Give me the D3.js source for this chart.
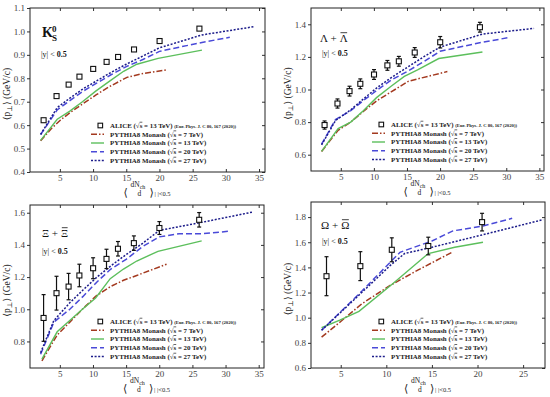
<!DOCTYPE html>
<html><head><meta charset="utf-8">
<script src="https://cdn.jsdelivr.net/npm/d3@7"></script>
<style>body{margin:0;background:#fff}svg{display:block}</style>
</head><body><div id="c"></div>
<script>
// ---------------- data ----------------
const xTicksA = [5,10,15,20,25,30,35];
const xTicksB = [5,10,15,20,25];
const yTicksK0S = [0.4,0.5,0.6,0.7,0.8,0.9,1.0,1.1];
const yTicksLam = [0.6,0.8,1.0,1.2,1.4];
const yTicksXi  = [0.8,1.0,1.2,1.4,1.6];
const yTicksOm  = [0.6,0.8,1.0,1.2,1.4,1.6,1.8];

const aliceX = [2.55,4.50,6.32,7.95,10.02,12.04,13.77,16.17,20.02,26.02];
const aliceK0S = [0.621,0.724,0.773,0.807,0.840,0.870,0.891,0.923,0.959,1.012];
const aliceK0SErr = [0.006,0.006,0.006,0.006,0.006,0.006,0.006,0.006,0.006,0.007];
const aliceLam = [0.782,0.914,0.99,1.035,1.092,1.148,1.173,1.227,1.29,1.382];
const aliceLamErr = [0.025,0.028,0.03,0.03,0.03,0.03,0.03,0.03,0.035,0.03];
const aliceXi = [0.946,1.10,1.141,1.21,1.255,1.313,1.376,1.411,1.505,1.556];
const aliceXiErr = [0.145,0.105,0.082,0.07,0.065,0.06,0.045,0.045,0.04,0.045];
const aliceXOm = [3.44,7.15,10.6,14.6,20.5];
const aliceOm = [1.33,1.41,1.54,1.57,1.76];
const aliceOmErr = [0.155,0.115,0.095,0.07,0.07];

// PYTHIA8 Monash curves
const k7x = [2.1,3.7,5.1,6.6,8.4,10.5,12.5,15.1,17.5,21.1];
const k7y = [0.533,0.585,0.622,0.655,0.69,0.73,0.765,0.804,0.82,0.836];
const k13x = [2.1,4.6,6.5,8.4,10.4,12.6,14.6,16.6,19.8,26.4];
const k13y = [0.535,0.625,0.66,0.70,0.745,0.79,0.83,0.86,0.885,0.92];
const k20x = [2.1,4.6,6.5,8.5,10.6,12.7,15,17.5,20,26.4,30.6];
const k20y = [0.56,0.665,0.705,0.745,0.78,0.815,0.85,0.88,0.915,0.953,0.975];
const k27x = [2.1,4.6,6.5,8.5,10.6,12.7,15,17.5,20,26.4,34.2];
const k27y = [0.56,0.675,0.715,0.755,0.79,0.825,0.86,0.895,0.93,0.985,1.02];

const l7x = [2.1,4.6,6.5,8.4,10.4,12.6,15.2,16.6,21.1];
const l7y = [0.62,0.75,0.80,0.865,0.93,0.985,1.05,1.065,1.11];
const l13x = [2.1,4.6,6.5,8.4,10.4,12.6,14.6,16.6,19.8,26.4];
const l13y = [0.62,0.76,0.80,0.87,0.95,1.02,1.08,1.12,1.19,1.23];
const l20x = [2.1,4.2,6.5,8.5,10.6,12.7,15,17.5,20,26.4,30.6];
const l20y = [0.665,0.815,0.87,0.935,1.0,1.06,1.11,1.17,1.235,1.29,1.32];
const l27x = [2.1,4.2,6.5,8.5,10.6,12.7,15,17.5,20,26.4,34.2];
const l27y = [0.66,0.81,0.875,0.945,1.015,1.075,1.135,1.2,1.26,1.34,1.375];

const x7x = [2.3,4.6,6.5,8.4,10.4,12.6,14.6,16.6,21.1];
const x7y = [0.68,0.84,0.92,1.0,1.08,1.14,1.18,1.21,1.28];
const x13x = [2.3,4.6,6.5,8.4,10.4,12.6,14.6,16.6,19.8,26.4];
const x13y = [0.69,0.86,0.93,1.0,1.07,1.19,1.25,1.30,1.36,1.425];
const x20x = [2.1,4.1,6.5,8.5,10.6,12.7,15,17.5,20,23,26.4,30.6];
const x20y = [0.72,0.92,1.0,1.08,1.17,1.25,1.31,1.39,1.45,1.47,1.47,1.485];
const x27x = [2.1,4.1,6.5,8.5,10.6,12.7,15,17.5,20,26.4,34.2];
const x27y = [0.73,0.93,1.04,1.12,1.2,1.27,1.34,1.41,1.49,1.54,1.605];

const o7x = [2.9,5,7.3,10.5,13.5,17.2];
const o7y = [0.845,0.97,1.11,1.26,1.38,1.52];
const o13x = [2.9,4.9,7,10.7,14.6,17.5,20.6];
const o13y = [0.92,0.98,1.05,1.27,1.51,1.56,1.60];
const o20x = [2.9,7.3,11.5,15,17.3,20.6,23.8];
const o20y = [0.90,1.21,1.52,1.61,1.69,1.73,1.79];
const o27x = [2.9,7.3,10.5,12,15,20.6,27.2];
const o27y = [0.90,1.20,1.42,1.51,1.56,1.66,1.78];

const legendTexts = ["PYTHIA8 Monash (√s = 7 TeV)","PYTHIA8 Monash (√s = 13 TeV)","PYTHIA8 Monash (√s = 20 TeV)","PYTHIA8 Monash (√s = 27 TeV)"];

// ---------------- drawing ----------------
const W=550,H=397;
const FONT = "'Liberation Serif','DejaVu Serif',serif";
const styles = [
  {color:"#a3391f", dash:"6,2,1.5,2", w:1.5},
  {color:"#5cbf5c", dash:null, w:1.4},
  {color:"#4a4ad8", dash:"6,3", w:1.5},
  {color:"#1c1c8a", dash:"2,1.6", w:1.5}
];
const svg = d3.select("#c").append("svg").attr("width",W).attr("height",H);
svg.append("rect").attr("width",W).attr("height",H).attr("fill","#fff");

const panels = [
  {box:[30,265,8,172], xd:[0.5,35.9], yd:[0.4,1.1], xt:xTicksA, yt:yTicksK0S,
   ax:aliceX, ay:aliceK0S, ae:aliceK0SErr,
   curves:[[k7x,k7y],[k13x,k13y],[k20x,k20y],[k27x,k27y]], sym:"K", lab:[12,29], rap:[11,49]},
  {box:[311,544,8,171], xd:[0.5,35.7], yd:[0.5,1.5], xt:xTicksA, yt:yTicksLam,
   ax:aliceX, ay:aliceLam, ae:aliceLamErr,
   curves:[[l7x,l7y],[l13x,l13y],[l20x,l20y],[l27x,l27y]], sym:"Λ", lab:[9,34], rap:[11,48]},
  {box:[30,264,205,368], xd:[0.5,35.8], yd:[0.635,1.648], xt:xTicksA, yt:yTicksXi,
   ax:aliceX, ay:aliceXi, ae:aliceXiErr,
   curves:[[x7x,x7y],[x13x,x13y],[x20x,x20y],[x27x,x27y]], sym:"Ξ", lab:[12,32], rap:[12,49]},
  {box:[311,545,202,368], xd:[1.74,27.4], yd:[0.6,1.92], xt:xTicksB, yt:yTicksOm,
   ax:aliceXOm, ay:aliceOm, ae:aliceOmErr,
   curves:[[o7x,o7y],[o13x,o13y],[o20x,o20y],[o27x,o27y]], sym:"Ω", lab:[10,27], rap:[11,42]}
];

panels.forEach((p,pi)=>{
  const [x0,x1,y0,y1] = p.box;
  const x = d3.scaleLinear().domain(p.xd).range([x0,x1]);
  const y = d3.scaleLinear().domain(p.yd).range([y1,y0]);
  const g = svg.append("g");
  const clipId = "clip"+pi;
  svg.append("clipPath").attr("id",clipId).append("rect").attr("x",x0).attr("y",y0).attr("width",x1-x0).attr("height",y1-y0);

  // axes
  const fmt = d3.format(".1f");
  const ab = g.append("g").attr("transform",`translate(0,${y1})`).call(d3.axisBottom(x).tickValues(p.xt).tickSizeInner(-3).tickSizeOuter(0).tickPadding(3));
  const at = g.append("g").attr("transform",`translate(0,${y0})`).call(d3.axisTop(x).tickValues(p.xt).tickSizeInner(-3).tickSizeOuter(0).tickFormat(""));
  const al = g.append("g").attr("transform",`translate(${x0},0)`).call(d3.axisLeft(y).tickValues(p.yt).tickSizeInner(3).tickSizeOuter(0).tickPadding(2).tickFormat(fmt));
  const ar = g.append("g").attr("transform",`translate(${x1},0)`).call(d3.axisRight(y).tickValues(p.yt).tickSizeInner(-3).tickSizeOuter(0).tickFormat(""));
  [ab,at,al,ar].forEach(a=>{
    a.select(".domain").remove();
    a.selectAll("line").attr("stroke","#333");
    a.selectAll("text").attr("font-family",FONT).attr("font-size",9).attr("fill","#444");
  });
  g.append("rect").attr("x",x0).attr("y",y0).attr("width",x1-x0).attr("height",y1-y0)
    .attr("fill","none").attr("stroke","#222").attr("stroke-width",1);

  // curves
  const line = d3.line().x(d=>x(d[0])).y(d=>y(d[1]));
  p.curves.forEach((c,i)=>{
    const pts = c[0].map((v,k)=>[v,c[1][k]]);
    const s = styles[i];
    g.append("path").attr("d",line(pts)).attr("fill","none").attr("stroke",s.color)
      .attr("stroke-width",s.w).attr("stroke-dasharray",s.dash).attr("clip-path",`url(#${clipId})`);
  });

  // ALICE points
  p.ax.forEach((v,k)=>{
    const cx=x(v), cy=y(p.ay[k]);
    const t=y(p.ay[k]+p.ae[k]), b=y(p.ay[k]-p.ae[k]);
    g.append("line").attr("x1",cx).attr("x2",cx).attr("y1",t).attr("y2",b).attr("stroke","#111").attr("stroke-width",1.2);
    g.append("line").attr("x1",cx-2).attr("x2",cx+2).attr("y1",t).attr("y2",t).attr("stroke","#111").attr("stroke-width",1.2);
    g.append("line").attr("x1",cx-2).attr("x2",cx+2).attr("y1",b).attr("y2",b).attr("stroke","#111").attr("stroke-width",1.2);
    g.append("rect").attr("x",cx-2.5).attr("y",cy-2.5).attr("width",5).attr("height",5)
      .attr("fill","#fff").attr("stroke","#111").attr("stroke-width",1.1);
  });

  // legend
  const lx = x0+61, ly = y1-46.5, dy=8.75, fs=6.9;
  g.append("rect").attr("x",lx+7).attr("y",ly-2.3).attr("width",4.6).attr("height",4.6).attr("fill","#fff").attr("stroke","#111").attr("stroke-width",1.1);
  const t0 = g.append("text").attr("x",x0+80).attr("y",ly+2.3).attr("font-family",FONT).attr("font-weight","bold").attr("font-size",fs).attr("fill","#222");
  t0.append("tspan").text("ALICE (");
  t0.append("tspan").attr("font-weight","normal").text("√");
  t0.append("tspan").attr("text-decoration","overline").text("s");
  t0.append("tspan").text(" = 13 TeV) ");
  t0.append("tspan").attr("font-size",4.7).text("(Eur. Phys. J. C 80, 167 (2020))");
  legendTexts.forEach((txt,i)=>{
    const yy = ly+dy*(i+1);
    const s = styles[i];
    g.append("line").attr("x1",lx).attr("x2",lx+13).attr("y1",yy).attr("y2",yy).attr("stroke",s.color).attr("stroke-width",s.w).attr("stroke-dasharray",s.dash);
    const parts = txt.split("√s");
    const tt = g.append("text").attr("x",x0+80).attr("y",yy+2.3).attr("font-family",FONT).attr("font-weight","bold").attr("font-size",fs).attr("fill","#222");
    tt.append("tspan").text(parts[0]);
    tt.append("tspan").attr("font-weight","normal").text("√");
    tt.append("tspan").attr("text-decoration","overline").text("s");
    tt.append("tspan").text(parts[1]);
  });

  // particle label
  const lxp = x0+p.lab[0], lyp = y0+p.lab[1];
  if(p.sym==="K"){
    g.append("text").attr("x",lxp).attr("y",lyp).attr("font-family",FONT).attr("font-weight","bold").attr("font-size",14).attr("fill","#111").text("K");
    g.append("text").attr("x",lxp+10).attr("y",lyp-5.5).attr("font-family",FONT).attr("font-weight","bold").attr("font-size",9).attr("fill","#111").text("0");
    g.append("text").attr("x",lxp+10).attr("y",lyp+4).attr("font-family",FONT).attr("font-weight","bold").attr("font-size",9).attr("fill","#111").text("S");
  } else {
    const a = g.append("text").attr("x",lxp).attr("y",lyp).attr("font-family",FONT).attr("font-size",11).attr("fill","#111").text(p.sym+" +");
    const w1 = a.node().getComputedTextLength() + 3;
    const b = g.append("text").attr("x",lxp+w1).attr("y",lyp).attr("font-family",FONT).attr("font-size",11).attr("fill","#111").text(p.sym);
    const w2 = b.node().getComputedTextLength();
    g.append("line").attr("x1",lxp+w1+0.8).attr("x2",lxp+w1+w2-0.5).attr("y1",lyp-9.3).attr("y2",lyp-9.3).attr("stroke","#111").attr("stroke-width",0.8);
  }
  const rt = g.append("text").attr("x",x0+p.rap[0]).attr("y",y0+p.rap[1]).attr("font-family",FONT).attr("font-size",8).attr("fill","#111");
  rt.append("tspan").text("|y| < ");
  rt.append("tspan").attr("font-weight","bold").text("0.5");

  // y title
  const cyT = (y0+y1)/2+4;
  const yt = g.append("text").attr("transform",`translate(${x0-20},${cyT}) rotate(-90)`).attr("text-anchor","middle")
    .attr("font-family",FONT).attr("font-size",9.5).attr("fill","#222");
  yt.append("tspan").text("⟨p");
  yt.append("tspan").attr("font-size",7).attr("dy",2).text("⊥");
  yt.append("tspan").attr("dy",-2).text("⟩  (GeV/c)");

  // x title
  const cx = (x0+x1)/2 + 1;
  const xg = g.append("g").attr("font-family",FONT).attr("fill","#222");
  xg.append("text").attr("x",cx-25).attr("y",y1+24).attr("font-size",11).text("⟨");
  const num = xg.append("text").attr("x",cx-18).attr("y",y1+15).attr("font-size",7.5);
  num.append("tspan").text("dN");
  num.append("tspan").attr("font-size",6).attr("dy",1.5).text("ch");
  xg.append("text").attr("x",cx-11).attr("y",y1+24).attr("font-size",7.5).text("d");
  xg.append("text").attr("x",cx+1).attr("y",y1+24).attr("font-size",11).text("⟩");
  xg.append("text").attr("x",cx+6).attr("y",y1+24).attr("font-size",6.5).text("| |<0.5");
});
</script></body></html>
